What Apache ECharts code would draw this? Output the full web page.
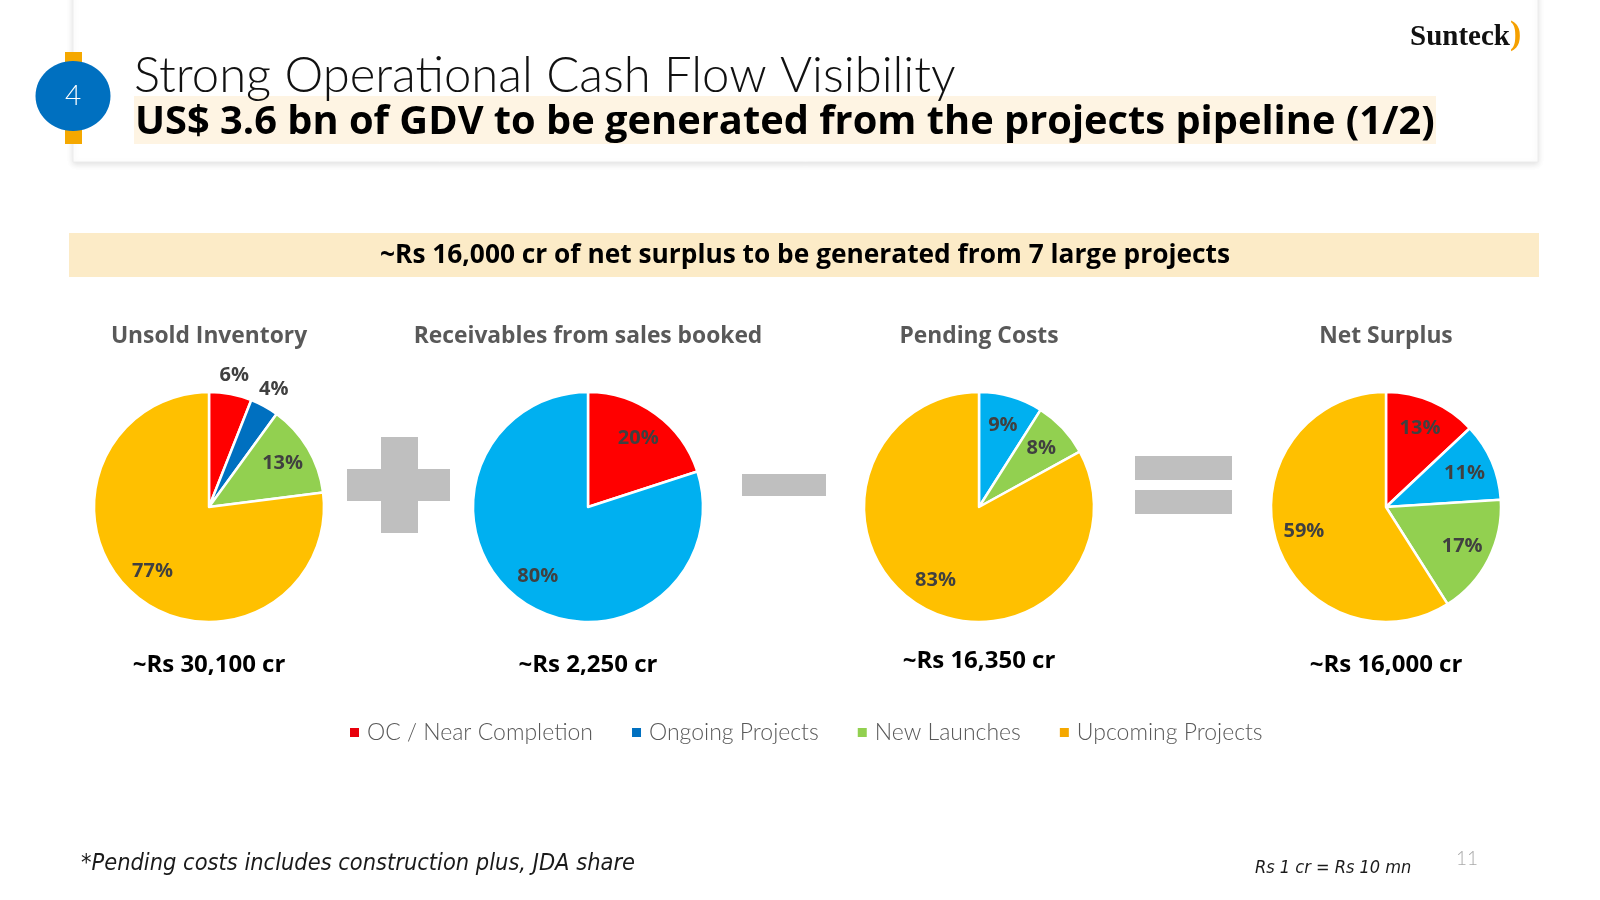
<!DOCTYPE html>
<html>
<head>
<meta charset="utf-8">
<title>Strong Operational Cash Flow Visibility</title>
<script src="https://cdn.jsdelivr.net/npm/echarts@6/dist/echarts.min.js"></script>
<style>
  html, body { margin: 0; padding: 0; background: #fff; }
  #chart { width: 1600px; height: 900px; }
</style>
</head>
<body>
<div id="chart"></div>
<script>
// 数据
const categories = ['OC / Near Completion', 'Ongoing Projects', 'New Launches', 'Upcoming Projects']
const pieTitles = ['Unsold Inventory', 'Receivables from sales booked', 'Pending Costs', 'Net Surplus']
const pieTotals = ['~Rs 30,100 cr', '~Rs 2,250 cr', '~Rs 16,350 cr', '~Rs 16,000 cr']

const unsoldInventory = [6, 4, 13, 77]
const receivables = [20, 80, 0, 0]
const pendingCosts = [0, 9, 8, 83]
const netSurplus = [13, 11, 17, 59]

const pieValues = [unsoldInventory, receivables, pendingCosts, netSurplus]

// 样式
const LIGHT = 'Lato, "Open Sans", sans-serif'
const BOLD = '"Open Sans", Lato, sans-serif'
const firstPalette = ['#FF0000', '#0070C0', '#92D050', '#FFC000']
const otherPalette = ['#FF0000', '#00B0F0', '#92D050', '#FFC000']
const legendColors = ['#E8000B', '#0070C0', '#92D050', '#F5A800']
const centersX = [209, 588, 979, 1386]
const centerY = 507
const R = 115
// slices whose label sits outside the pie (only on the first pie)
const outsideLabels = [[0, 1], [], [], []]

const chart = echarts.init(document.getElementById('chart'))

function pieData(values, palette) {
  return categories
    .map((name, i) => ({ name, value: values[i], itemStyle: { color: palette[i] }, idx: i }))
    .filter(d => d.value > 0)
}

const series = []
// 饼图本体
pieValues.forEach((values, p) => {
  series.push({
    type: 'pie',
    center: [centersX[p], centerY],
    radius: R,
    startAngle: 90,
    clockwise: true,
    avoidLabelOverlap: false,
    label: { show: false },
    labelLine: { show: false },
    itemStyle: { borderColor: '#fff', borderWidth: 2.5 },
    emphasis: { scale: false },
    data: pieData(values, p === 0 ? firstPalette : otherPalette)
  })
})
// 标签层 (inside / outside)
pieValues.forEach((values, p) => {
  const palette = p === 0 ? firstPalette : otherPalette
  const mk = (radius, inside) => ({
    type: 'pie',
    center: [centersX[p], centerY],
    radius,
    startAngle: 90,
    silent: true,
    avoidLabelOverlap: false,
    itemStyle: { color: 'rgba(0,0,0,0)', borderWidth: 0 },
    emphasis: { disabled: true },
    labelLine: { show: false },
    label: {
      show: true,
      position: 'inside',
      fontFamily: BOLD,
      fontWeight: 'bold',
      fontSize: 20,
      color: '#404040',
      formatter: (prm) => {
        const isOut = outsideLabels[p].includes(prm.data.idx)
        return (isOut !== inside) ? prm.value + '%' : ''
      }
    },
    data: pieData(values, palette).map(d => ({ ...d, itemStyle: { color: 'rgba(0,0,0,0)' } }))
  })
  series.push(mk([50, R], true))
  if (outsideLabels[p].length) series.push(mk([R, 148], false))
})

const graphic = [
  // header card
  { type: 'rect', shape: { x: 73, y: -10, width: 1465, height: 172 },
    style: { fill: '#fff', stroke: '#ececec', lineWidth: 1, shadowBlur: 6, shadowColor: 'rgba(0,0,0,0.12)', shadowOffsetY: 2 } },
  { type: 'rect', shape: { x: 65, y: 52, width: 17, height: 92 }, style: { fill: '#F5A800' } },
  { type: 'ellipse', shape: { cx: 73, cy: 96, rx: 37.5, ry: 35 }, style: { fill: '#0070C0' } },
  { type: 'text', x: 73, y: 96, style: { text: '4', fill: '#fff', font: '300 28px ' + LIGHT, align: 'center', verticalAlign: 'middle' } },
  { type: 'rect', shape: { x: 134, y: 96, width: 1302, height: 48 }, style: { fill: '#FEF4E3' } },
  { type: 'text', x: 134, y: 101, style: { text: 'Strong Operational Cash Flow Visibility', fill: '#111', font: '300 49px ' + LIGHT, verticalAlign: 'bottom' } },
  { type: 'text', x: 135, y: 123, style: { text: 'US$ 3.6 bn of GDV to be generated from the projects pipeline (1/2)', fill: '#000', font: 'bold 39.8px ' + BOLD, verticalAlign: 'middle' } },
  // logo
  { type: 'text', x: 1410, y: 38, style: { text: 'Sunteck', fill: '#111', font: 'bold 29px "Liberation Serif", serif', verticalAlign: 'middle' } },
  { type: 'text', x: 1510, y: 35, style: { text: ')', fill: '#F5A000', font: 'bold 34px "Liberation Serif", serif', verticalAlign: 'middle' } },
  // banner
  { type: 'rect', shape: { x: 69, y: 233, width: 1470, height: 44 }, style: { fill: '#FCEBC7' } },
  { type: 'text', x: 805, y: 256, style: { text: '~Rs 16,000 cr of net surplus to be generated from 7 large projects', fill: '#000', font: 'bold 26.3px ' + BOLD, align: 'center', verticalAlign: 'middle' } },
  // operators
  { type: 'rect', shape: { x: 347, y: 469, width: 103, height: 32 }, style: { fill: '#BFBFBF' } },
  { type: 'rect', shape: { x: 381, y: 437, width: 37, height: 96 }, style: { fill: '#BFBFBF' } },
  { type: 'rect', shape: { x: 742, y: 474, width: 84, height: 22 }, style: { fill: '#BFBFBF' } },
  { type: 'rect', shape: { x: 1135, y: 456, width: 97, height: 24 }, style: { fill: '#BFBFBF' } },
  { type: 'rect', shape: { x: 1135, y: 490, width: 97, height: 24 }, style: { fill: '#BFBFBF' } },
  // footer
  { type: 'text', x: 81, y: 864, style: { text: '*Pending costs includes construction plus, JDA share', fill: '#1a1a1a', font: 'italic 23.4px "DejaVu Sans Condensed", sans-serif', verticalAlign: 'middle' } },
  { type: 'text', x: 1255, y: 868, style: { text: 'Rs 1 cr = Rs 10 mn', fill: '#1a1a1a', font: 'italic 18px "DejaVu Sans Condensed", sans-serif', verticalAlign: 'middle' } },
  { type: 'text', x: 1456, y: 859, style: { text: '11', fill: '#aaa', font: '300 19px ' + LIGHT, verticalAlign: 'middle' } }
]

pieTitles.forEach((t, p) => {
  graphic.push({ type: 'text', x: centersX[p], y: 337, style: { text: t, fill: '#595959', font: 'bold 22.8px ' + BOLD, align: 'center', verticalAlign: 'middle' } })
})
pieTotals.forEach((t, p) => {
  graphic.push({ type: 'text', x: centersX[p], y: p === 2 ? 661 : 665, style: { text: t, fill: '#000', font: 'bold 24px ' + BOLD, align: 'center', verticalAlign: 'middle' } })
})

const option = {
  animation: false,
  backgroundColor: '#fff',
  legend: {
    left: 343,
    top: 716,
    icon: 'rect',
    itemWidth: 11,
    itemHeight: 11,
    itemGap: 37,
    selectedMode: false,
    textStyle: { fontFamily: LIGHT, fontWeight: 300, fontSize: 23, color: '#595959', padding: [0, 0, 0, 2] },
    data: categories.map((name, i) => ({ name, itemStyle: { color: legendColors[i] } }))
  },
  graphic,
  series
}

chart.setOption(option)
window.addEventListener('resize', () => chart.resize())
</script>
</body>
</html>
